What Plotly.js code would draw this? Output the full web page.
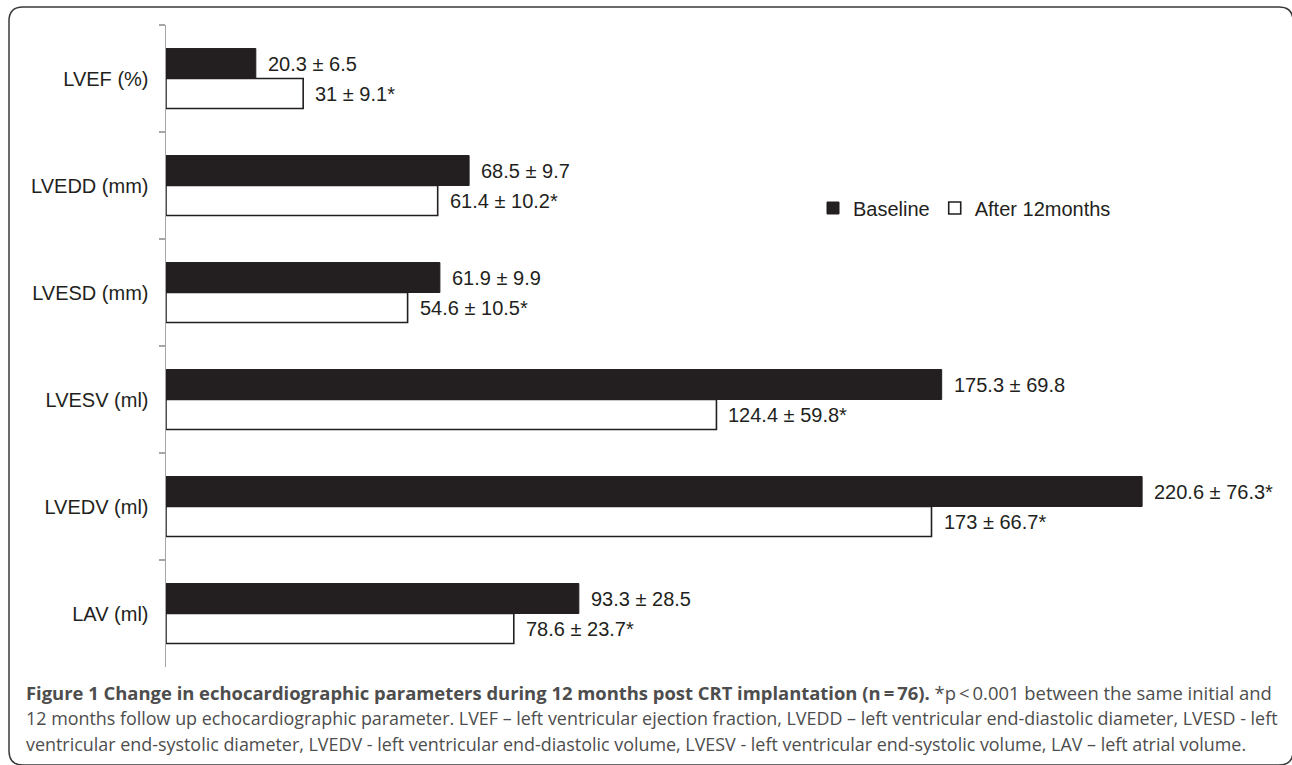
<!DOCTYPE html>
<html>
<head>
<meta charset="utf-8">
<script src="https://cdn.plot.ly/plotly-3.0.1.min.js"></script>
<style>html,body{margin:0;padding:0;background:#fff;}#chart{width:1292px;height:765px;}</style>
</head>
<body>
<div id="chart"></div>
<script>
// ---- data ----
const categories = ['LVEF (%)', 'LVEDD (mm)', 'LVESD (mm)', 'LVESV (ml)', 'LVEDV (ml)', 'LAV (ml)'];
const seriesNames = ['Baseline', 'After 12months'];
const baseline = [20.3, 68.5, 61.9, 175.3, 220.6, 93.3];
const after12 = [31, 61.4, 54.6, 124.4, 173, 78.6];
const baselineLabels = ['20.3 ± 6.5', '68.5 ± 9.7', '61.9 ± 9.9', '175.3 ± 69.8', '220.6 ± 76.3*', '93.3 ± 28.5'];
const afterLabels = ['31 ± 9.1*', '61.4 ± 10.2*', '54.6 ± 10.5*', '124.4 ± 59.8*', '173 ± 66.7*', '78.6 ± 23.7*'];
const captionLines = [
  '<b>Figure 1 Change in echocardiographic parameters during 12 months post CRT implantation (n\u2009=\u200976).</b> <span style="color:#4d4d4d">*p\u2009<\u20090.001 between the same initial and</span>',
  '12 months follow up echocardiographic parameter. LVEF \u2013 left ventricular ejection fraction, LVEDD \u2013 left ventricular end-diastolic diameter, LVESD - left',
  'ventricular end-systolic diameter, LVEDV - left ventricular end-diastolic volume, LVESV - left ventricular end-systolic volume, LAV \u2013 left atrial volume.'
];

// ---- geometry ----
const W = 1292, H = 765;
const M = {l: 166, r: 22, t: 25, b: 98};
const PW = W - M.l - M.r, PH = H - M.t - M.b;
const px2x = p => (p - M.l) / PW;
const px2y = p => (H - M.b - p) / PH;
const dark = '#231f20';
const FONT = 'Liberation Sans, Arial, Helvetica, sans-serif';
const CAPFONT = 'Open Sans, Noto Sans, sans-serif';
const FS = 20;

const traces = [
  {type: 'bar', orientation: 'h', name: seriesNames[0], y: categories, x: baseline,
   marker: {color: dark, line: {color: dark, width: 1}}, hoverinfo: 'x+y'},
  {type: 'bar', orientation: 'h', name: seriesNames[1], y: categories, x: after12,
   marker: {color: '#ffffff', line: {color: dark, width: 1.6}}, hoverinfo: 'x+y'}
];

const annotations = [];
categories.forEach((c, i) => {
  annotations.push({x: baseline[i], y: c, xref: 'x', yref: 'y', text: baselineLabels[i],
    showarrow: false, xanchor: 'left', yanchor: 'middle', xshift: 10, yshift: 15,
    font: {family: FONT, size: FS, color: dark}});
  annotations.push({x: after12[i], y: c, xref: 'x', yref: 'y', text: afterLabels[i],
    showarrow: false, xanchor: 'left', yanchor: 'middle', xshift: 10, yshift: -15,
    font: {family: FONT, size: FS, color: dark}});
});
const capStart = annotations.length;
const capY = [692, 718, 744];
const capTarget = [1247, 1248, 1227];
captionLines.forEach((t, i) => {
  annotations.push({x: px2x(24), y: px2y(capY[i]), xref: 'paper', yref: 'paper', text: t,
    showarrow: false, xanchor: 'left', yanchor: 'middle',
    font: {family: CAPFONT, size: 16, color: '#4d4d4d'}});
});

// rounded border (runs off the right and bottom edges, as in the figure)
const bx0 = 9, by0 = 7, bx1 = 1293, by1 = 765, r = 14;
const P = (x, y) => px2x(x) + ',' + px2y(y);
const borderPath = 'M' + P(bx0 + r, by0) + ' L' + P(bx1 - r, by0) + ' Q' + P(bx1, by0) + ' ' + P(bx1, by0 + r) +
  ' L' + P(bx1, by1 - r) + ' Q' + P(bx1, by1) + ' ' + P(bx1 - r, by1) +
  ' L' + P(bx0 + r, by1) + ' Q' + P(bx0, by1) + ' ' + P(bx0, by1 - r) +
  ' L' + P(bx0, by0 + r) + ' Q' + P(bx0, by0) + ' ' + P(bx0 + r, by0) + ' Z';

const layout = {
  width: W, height: H, margin: M,
  paper_bgcolor: '#fff', plot_bgcolor: '#fff',
  font: {family: FONT, size: FS, color: dark},
  barmode: 'group', bargap: 0.44, bargroupgap: 0,
  xaxis: {range: [0, 249.5], visible: false, fixedrange: true},
  yaxis: {type: 'category', autorange: 'reversed', showline: true, linecolor: '#a6a6a6', linewidth: 1.5,
    ticks: 'outside', tickson: 'boundaries', ticklen: 6, tickcolor: '#a6a6a6', tickwidth: 1.2,
    ticklabelstandoff: 12, showgrid: false, zeroline: false,
    tickfont: {family: FONT, size: FS, color: dark}},
  showlegend: true,
  legend: {orientation: 'h', x: px2x(813), y: px2y(208), xanchor: 'left', yanchor: 'middle',
    font: {family: FONT, size: FS, color: dark}, bgcolor: 'rgba(0,0,0,0)', itemwidth: 30,
    traceorder: 'normal'},
  annotations: annotations,
  shapes: [{type: 'path', xref: 'paper', yref: 'paper', path: borderPath,
    line: {color: '#3a3a3a', width: 1.5}, fillcolor: 'rgba(0,0,0,0)', layer: 'below'}]
};

Plotly.newPlot('chart', traces, layout, {displayModeBar: false, staticPlot: true}).then(gd => {
  // fit caption font sizes so the lines span the same widths as in the figure
  const nodes = gd.querySelectorAll('.annotation');
  const widths = [];
  for (let i = 0; i < captionLines.length; i++) {
    const t = nodes[capStart + i].querySelector('text');
    widths.push(t ? t.getBBox().width : 0);
  }
  if (widths.every(w => w > 0)) {
    const s1 = 16 * capTarget[0] / widths[0];
    const s23 = (16 * capTarget[1] / widths[1] + 16 * capTarget[2] / widths[2]) / 2;
    const upd = {};
    upd['annotations[' + capStart + '].font.size'] = s1;
    upd['annotations[' + (capStart + 1) + '].font.size'] = s23;
    upd['annotations[' + (capStart + 2) + '].font.size'] = s23;
    return Plotly.relayout(gd, upd);
  }
});
</script>
</body>
</html>
